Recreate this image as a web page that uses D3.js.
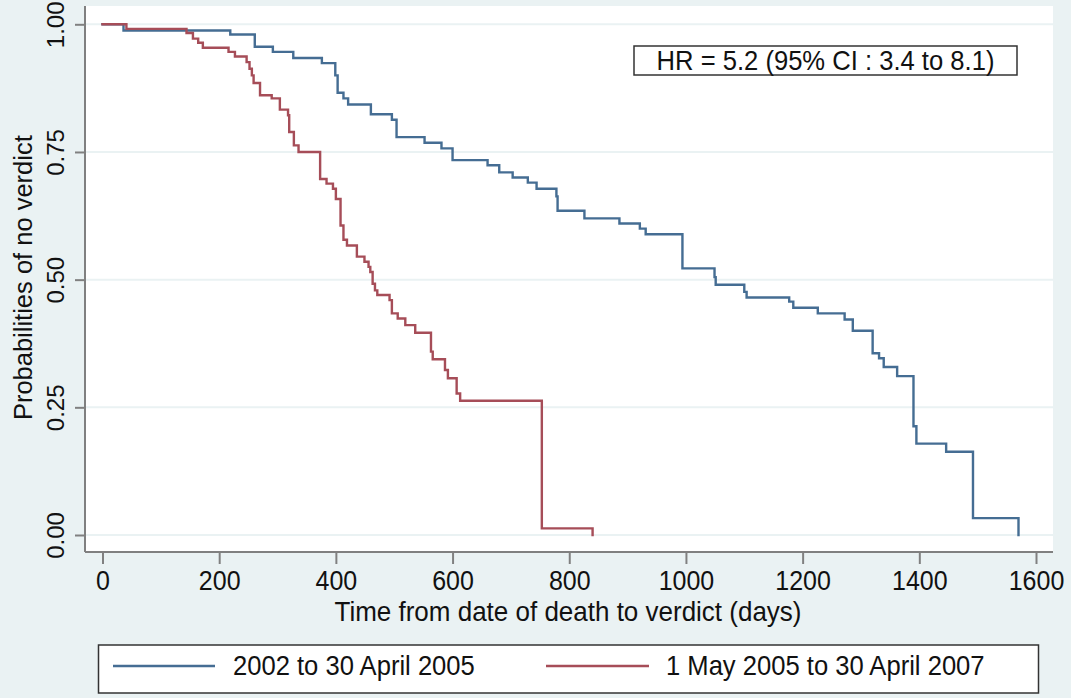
<!DOCTYPE html>
<html>
<head>
<meta charset="utf-8">
<script src="https://cdn.jsdelivr.net/npm/d3@7"></script>
<style>
  html, body { margin: 0; padding: 0; background: #eaf2f3; }
  svg { display: block; }
  text { font-family: "Liberation Sans", Arial, sans-serif; fill: #111; }
</style>
</head>
<body>
<svg id="chart" width="1071" height="698"></svg>
<script>
// ---- data ----
const seriesNames = ["2002 to 30 April 2005", "1 May 2005 to 30 April 2007"];
const xTicks = [0, 200, 400, 600, 800, 1000, 1200, 1400, 1600];
const yTicks = [0, 0.25, 0.5, 0.75, 1];
const yTickLabels = ["0.00", "0.25", "0.50", "0.75", "1.00"];
const xTitle = "Time from date of death to verdict (days)";
const yTitle = "Probabilities of no verdict";
const hrText = "HR = 5.2 (95% CI : 3.4 to 8.1)";

const blueDays = [0, 36, 219, 261, 292, 327, 376, 399, 403, 413, 421, 460, 496, 504, 552, 581, 600, 660, 680, 703, 729, 744, 778, 780, 826, 886, 921, 931, 994, 1049, 1051, 1100, 1104, 1177, 1184, 1226, 1272, 1286, 1320, 1331, 1339, 1362, 1390, 1395, 1446, 1492, 1570];
const blueSurv = [1.0, 0.988, 0.980, 0.956, 0.946, 0.934, 0.924, 0.900, 0.866, 0.855, 0.843, 0.824, 0.813, 0.779, 0.768, 0.757, 0.734, 0.724, 0.710, 0.700, 0.690, 0.678, 0.663, 0.635, 0.620, 0.610, 0.600, 0.589, 0.522, 0.505, 0.490, 0.476, 0.465, 0.457, 0.445, 0.434, 0.422, 0.400, 0.356, 0.346, 0.329, 0.311, 0.213, 0.179, 0.163, 0.033, 0.0];

const redDays = [0, 41, 144, 155, 164, 172, 216, 227, 247, 252, 256, 259, 270, 290, 304, 318, 320, 328, 336, 373, 384, 395, 400, 408, 413, 419, 436, 449, 456, 459, 463, 467, 471, 492, 496, 506, 519, 536, 563, 566, 587, 592, 607, 613, 753, 840];
const redSurv = [1.0, 0.991, 0.983, 0.972, 0.964, 0.954, 0.946, 0.937, 0.926, 0.913, 0.900, 0.885, 0.861, 0.855, 0.833, 0.822, 0.789, 0.763, 0.750, 0.697, 0.688, 0.678, 0.658, 0.606, 0.578, 0.567, 0.545, 0.535, 0.525, 0.515, 0.492, 0.479, 0.470, 0.460, 0.434, 0.424, 0.411, 0.396, 0.359, 0.344, 0.323, 0.307, 0.277, 0.263, 0.013, 0.0];

const colors = ["#456d93", "#a64d58"];

// ---- layout ----
const plot = { left: 85, right: 1053, top: 6, bottom: 552 };
const svg = d3.select("#chart");

const x = d3.scaleLinear().domain([0, 1600]).range([102.5, 1036]);
const y = d3.scaleLinear().domain([0, 1]).range([535, 24.3]);

// background
svg.append("rect").attr("x", 0).attr("y", 0).attr("width", 1071).attr("height", 698).attr("fill", "#eaf2f3");
svg.append("rect").attr("x", plot.left).attr("y", plot.top)
  .attr("width", plot.right - plot.left).attr("height", plot.bottom - plot.top)
  .attr("fill", "#ffffff");

// gridlines
svg.append("g").selectAll("line").data(yTicks).join("line")
  .attr("x1", plot.left).attr("x2", plot.right)
  .attr("y1", d => y(d)).attr("y2", d => y(d))
  .attr("stroke", "#eaf2f3").attr("stroke-width", 2);

// curves
const line = d3.line().x(d => x(d[0])).y(d => y(d[1])).curve(d3.curveStepAfter);
const blueData = blueDays.map((d, i) => [d, blueSurv[i]]);
const redData = redDays.map((d, i) => [d, redSurv[i]]);
[blueData, redData].forEach((data, i) => {
  svg.append("path").datum(data)
    .attr("d", line)
    .attr("fill", "none")
    .attr("stroke", colors[i])
    .attr("stroke-width", 2.4)
    .attr("stroke-linejoin", "miter")
    .attr("stroke-linecap", "square");
});

// axes
const axisColor = "#808080";
svg.append("line").attr("x1", plot.left).attr("x2", plot.left)
  .attr("y1", plot.top).attr("y2", plot.bottom)
  .attr("stroke", axisColor).attr("stroke-width", 2);
svg.append("line").attr("x1", plot.left).attr("x2", plot.right)
  .attr("y1", plot.bottom).attr("y2", plot.bottom)
  .attr("stroke", axisColor).attr("stroke-width", 2);

const xAxis = d3.axisBottom(x).tickValues(xTicks).tickSize(12).tickPadding(8).tickFormat(d3.format("d"));
const gx = svg.append("g").attr("transform", `translate(0,${plot.bottom})`).call(xAxis);
gx.select(".domain").remove();
gx.selectAll(".tick line").attr("stroke", axisColor).attr("stroke-width", 2);
gx.selectAll(".tick text").attr("font-size", 25).attr("fill", "#111")
  .attr("font-family", "Liberation Sans, Arial, sans-serif")
  .attr("transform", "scale(1,1.08)").attr("dy", "0.71em").attr("y", 17);

const yAxis = d3.axisLeft(y).tickValues(yTicks).tickSize(10).tickFormat((d, i) => yTickLabels[i]);
const gy = svg.append("g").attr("transform", `translate(${plot.left},0)`).call(yAxis);
gy.select(".domain").remove();
gy.selectAll(".tick line").attr("stroke", axisColor).attr("stroke-width", 2);
gy.selectAll(".tick text").attr("font-size", 24).attr("fill", "#111")
  .attr("font-family", "Liberation Sans, Arial, sans-serif")
  .attr("text-anchor", "middle").attr("x", null).attr("dy", null)
  .attr("transform", "translate(-21,0) rotate(-90)");

// axis titles
svg.append("text").attr("x", 568).attr("y", 0)
  .attr("transform", "translate(0,621) scale(1,1.08)")
  .attr("text-anchor", "middle").attr("font-size", 26).text(xTitle);
svg.append("text")
  .attr("transform", `translate(32,${(y(0) + y(1)) / 2 - 2}) rotate(-90)`)
  .attr("text-anchor", "middle").attr("font-size", 25.5).text(yTitle);

// HR box
svg.append("rect").attr("x", 634).attr("y", 46).attr("width", 383).attr("height", 29)
  .attr("fill", "#ffffff").attr("stroke", "#333").attr("stroke-width", 1.5);
svg.append("text").attr("x", 825.5).attr("y", 0)
  .attr("transform", "translate(0,70) scale(1,1.1)")
  .attr("text-anchor", "middle").attr("font-size", 25.6).text(hrText);

// legend
const lg = svg.append("g");
lg.append("rect").attr("x", 98.5).attr("y", 645).attr("width", 940).attr("height", 48)
  .attr("fill", "#ffffff").attr("stroke", "#333").attr("stroke-width", 1.5);
const legendItems = [
  { sx: 113, ex: 215, tx: 233 },
  { sx: 546, ex: 649, tx: 666 }
];
legendItems.forEach((it, i) => {
  lg.append("line").attr("x1", it.sx).attr("x2", it.ex).attr("y1", 666).attr("y2", 666)
    .attr("stroke", colors[i]).attr("stroke-width", 2.4);
  lg.append("text").attr("x", it.tx).attr("y", 0)
    .attr("transform", "translate(0,675) scale(1,1.08)")
    .attr("font-size", 25.6).text(seriesNames[i]);
});
</script>
</body>
</html>
